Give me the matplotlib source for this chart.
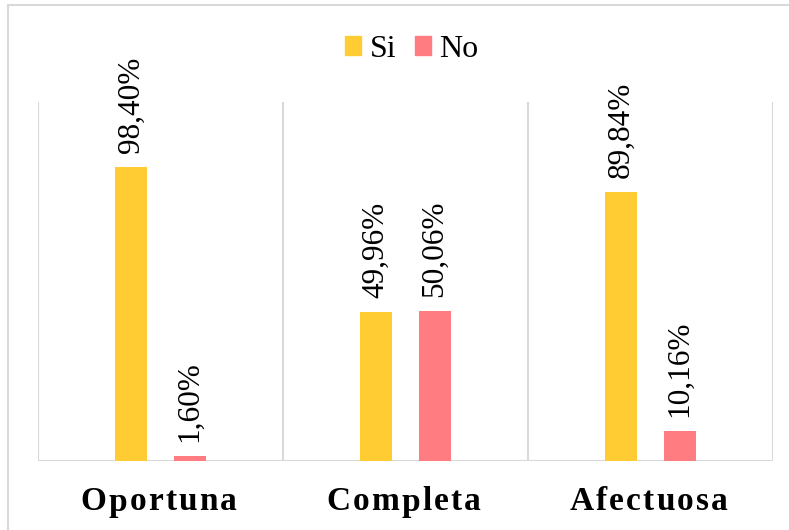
import numpy as np
import matplotlib.pyplot as plt
from matplotlib.patches import Rectangle, Patch

plt.rcParams['font.family'] = ['Liberation Serif', 'DejaVu Serif']

categorias = ['Oportuna', 'Completa', 'Afectuosa']
si = [98.40, 49.96, 89.84]
no = [1.60, 50.06, 10.16]
etiquetas_si = ['98,40%', '49,96%', '89,84%']
etiquetas_no = ['1,60%', '50,06%', '10,16%']

color_si = '#FFCC33'
color_no = '#FF7C80'
gris = '#D9D9D9'

fig = plt.figure(figsize=(7.89, 5.30), dpi=100)
ax = fig.add_axes([0.0482, 0.1302, 0.9315, 0.6773])

x = np.arange(len(categorias))
ancho = 0.128
desp = 0.12
b_si = ax.bar(x - desp, si, ancho, color=color_si)
b_no = ax.bar(x + desp, no, ancho, color=color_no)

for barras, textos in ((b_si, etiquetas_si), (b_no, etiquetas_no)):
    for b, t in zip(barras, textos):
        ax.annotate(t, (b.get_x() + b.get_width() / 2, b.get_height()),
                    xytext=(0, 10), textcoords='offset points',
                    rotation=90, ha='center', va='bottom', fontsize=22.5)

ax.set_xlim(-0.5, 2.5)
ax.set_ylim(0, 120)
ax.set_yticks([])
ax.set_xticks([])
for s in ax.spines.values():
    s.set_visible(False)
# separadores verticales y linea base
for xv in [-0.5, 0.5, 1.5, 2.5]:
    ax.axvline(xv, color=gris, lw=1.5, zorder=0)
ax.axhline(0, color=gris, lw=1.5, zorder=0)

# nombres de categoria en negrita con espaciado entre letras
fig.canvas.draw()
renderer = fig.canvas.get_renderer()
espacio = 2.2
for xi, nombre in zip(x, categorias):
    anchos = []
    for ch in nombre:
        t = fig.text(0, 0, ch, fontsize=24, fontweight='bold')
        anchos.append(t.get_window_extent(renderer).width)
        t.remove()
    total = sum(anchos) + espacio * (len(nombre) - 1)
    cx = ax.transData.transform((xi, 0))[0]
    pos = cx - total / 2 - 2
    for ch, w in zip(nombre, anchos):
        fig.text(pos / fig.bbox.width, (530 - 502) / 530, ch,
                 fontsize=24, fontweight='bold', ha='left', va='center')
        pos += w + espacio

handles = [Patch(color=color_si), Patch(color=color_no)]
fig.legend(handles, ['Si', 'No'], loc='center', bbox_to_anchor=(0.522, 0.907),
           ncol=2, frameon=False, fontsize=23, handlelength=0.5,
           handleheight=0.5, handletextpad=0.25, columnspacing=0.6)

# borde del area del grafico
fig.patches.append(Rectangle((8 / 789, -0.1), 1.2, 1.1 - 5 / 530,
                             transform=fig.transFigure, fill=False,
                             edgecolor=gris, lw=1.5))

fig.savefig('out.png', dpi=100)
